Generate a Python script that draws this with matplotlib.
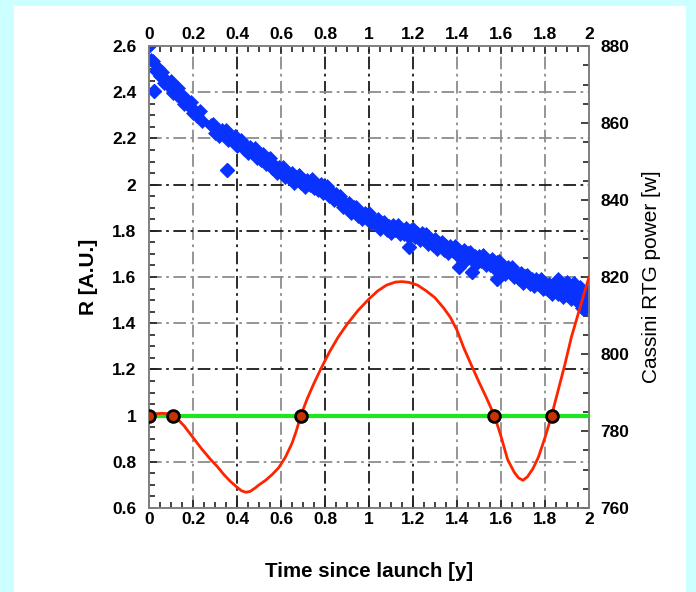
import matplotlib
matplotlib.use("Agg")
import matplotlib.pyplot as plt
from matplotlib.patches import Rectangle
from matplotlib.ticker import MultipleLocator, FuncFormatter

plt.rcParams['font.family'] = ['Liberation Sans', 'DejaVu Sans']

# Cassini RTG power telemetry [W] vs time since launch [y]
power_t = [0.00, 0.01, 0.02, 0.03, 0.04, 0.05, 0.06, 0.07, 0.08, 0.09, 0.10, 0.11, 0.12,
           0.13, 0.14, 0.15, 0.16, 0.17, 0.18, 0.19, 0.20, 0.21, 0.22, 0.23, 0.24,
           0.28, 0.29, 0.30, 0.31, 0.32, 0.33, 0.34, 0.35, 0.36, 0.37, 0.38, 0.39,
           0.40, 0.41, 0.42, 0.43, 0.44, 0.45, 0.46, 0.47, 0.48, 0.49, 0.50, 0.51,
           0.52, 0.53, 0.54, 0.55, 0.56, 0.57, 0.58, 0.59, 0.60, 0.61, 0.62, 0.63,
           0.64, 0.65, 0.66, 0.67, 0.68, 0.69, 0.70, 0.71, 0.72, 0.73, 0.74, 0.75,
           0.76, 0.77, 0.78, 0.79, 0.80, 0.81, 0.82, 0.83, 0.84, 0.85, 0.86, 0.87,
           0.88, 0.89, 0.90, 0.91, 0.92, 0.93, 0.94, 0.95, 0.96, 0.97, 0.98, 0.99,
           1.00, 1.01, 1.02, 1.03, 1.04, 1.05, 1.06, 1.07, 1.08, 1.09, 1.10, 1.11,
           1.12, 1.13, 1.14, 1.15, 1.16, 1.17, 1.18, 1.19, 1.20, 1.21, 1.22, 1.23,
           1.24, 1.25, 1.26, 1.27, 1.28, 1.29, 1.30, 1.31, 1.32, 1.33, 1.34, 1.35,
           1.36, 1.37, 1.38, 1.39, 1.40, 1.41, 1.42, 1.43, 1.44, 1.45, 1.46, 1.47,
           1.48, 1.49, 1.50, 1.51, 1.52, 1.53, 1.54, 1.55, 1.56, 1.57, 1.58, 1.59,
           1.60, 1.61, 1.62, 1.63, 1.64, 1.65, 1.66, 1.67, 1.68, 1.69, 1.70, 1.71,
           1.72, 1.73, 1.74, 1.75, 1.76, 1.77, 1.78, 1.79, 1.80, 1.81, 1.82, 1.83,
           1.84, 1.85, 1.86, 1.87, 1.88, 1.89, 1.90, 1.91, 1.92, 1.93, 1.94, 1.95,
           1.96, 1.97, 1.98, 1.99, 2.00,
           1.86, 1.90, 1.93, 1.96, 1.97, 1.98, 1.99]
power_w = [879.9, 876.4, 876.2, 873.4, 874.2, 872.3, 873.2, 870.3, 870.9, 869.5, 870.8, 867.9, 869.2,
           869.1, 866.5, 867.2, 865.0, 866.2, 864.4, 865.4, 862.5, 863.2, 861.9, 863.1, 860.4,
           859.6, 859.8, 857.5, 858.5, 856.6, 858.3, 856.9, 858.2, 855.6, 856.5, 855.3, 856.7,
           853.9, 855.4, 855.6, 853.3, 854.1, 852.1, 853.8, 852.4, 853.5, 850.8, 851.7, 850.5,
           851.9, 849.3, 850.7, 850.8, 848.3, 849.2, 847.1, 848.7, 847.3, 848.6, 846.0, 846.9,
           845.7, 847.1, 844.5, 846.1, 846.4, 844.3, 845.3, 843.4, 845.2, 844.0, 845.4, 843.0,
           843.9, 842.7, 844.2, 841.8, 843.4, 843.6, 841.1, 842.0, 839.9, 841.5, 839.9, 841.1,
           838.3, 839.1, 837.9, 839.3, 836.7, 838.3, 838.3, 835.9, 836.9, 835.0, 836.7, 835.3,
           836.6, 834.0, 834.9, 833.7, 835.1, 832.5, 834.1, 834.4, 832.2, 833.3, 831.5, 833.4,
           832.1, 833.6, 831.1, 832.2, 831.2, 832.8, 830.4, 832.2, 832.5, 830.3, 831.4, 829.6,
           831.3, 829.9, 831.2, 828.6, 829.5, 828.3, 829.8, 827.2, 828.9, 829.2, 826.9, 828.0,
           826.2, 828.0, 826.7, 828.1, 825.6, 826.6, 825.5, 827.0, 824.5, 826.2, 826.5, 824.3,
           825.4, 823.6, 825.4, 824.2, 825.6, 823.2, 824.2, 823.2, 824.7, 822.3, 823.9, 824.1,
           821.8, 822.8, 820.9, 822.6, 821.2, 822.5, 819.9, 820.8, 819.6, 821.0, 818.5, 820.3,
           820.5, 818.2, 819.4, 817.6, 819.4, 818.2, 819.5, 816.9, 817.9, 816.9, 818.3, 815.7,
           817.4, 817.8, 815.6, 816.8, 814.9, 816.6, 815.3, 816.8, 814.2, 815.1, 814.0, 815.6,
           813.0, 814.6, 814.8, 812.5, 813.6,
           819.5, 818.8, 818.4, 817.5, 812.0, 811.8, 816.5]
# isolated low readings
outlier_t = [0.024, 0.353, 1.18, 1.41, 1.47, 1.58]
outlier_w = [868.3, 847.8, 827.8, 822.7, 821.2, 819.4]

# residual ratio R
r_t = [0.00, 0.03, 0.06, 0.09, 0.11, 0.13, 0.16, 0.20, 0.24, 0.28, 0.31, 0.34,
       0.37, 0.40, 0.42, 0.44, 0.46, 0.48, 0.50, 0.53, 0.56, 0.59, 0.62, 0.65,
       0.67, 0.69, 0.72, 0.75, 0.78, 0.82, 0.86, 0.90, 0.95, 1.00, 1.04, 1.08,
       1.12, 1.15, 1.18, 1.22, 1.26, 1.30, 1.34, 1.37, 1.40, 1.43, 1.46, 1.50,
       1.53, 1.57, 1.60, 1.63, 1.66, 1.68, 1.70, 1.72, 1.745, 1.77, 1.80, 1.83,
       1.86, 1.89, 1.92, 1.96, 2.00]
r_val = [1.00, 1.008, 1.01, 1.008, 1.00, 0.985, 0.955, 0.905, 0.855, 0.81, 0.78, 0.745,
         0.715, 0.69, 0.675, 0.668, 0.672, 0.685, 0.70, 0.72, 0.745, 0.775, 0.82, 0.88,
         0.935, 1.00, 1.075, 1.14, 1.20, 1.275, 1.34, 1.395, 1.455, 1.505, 1.54, 1.565,
         1.578, 1.58, 1.577, 1.565, 1.54, 1.51, 1.465, 1.425, 1.37, 1.295, 1.23, 1.145,
         1.085, 1.00, 0.91, 0.81, 0.755, 0.73, 0.72, 0.735, 0.77, 0.82, 0.905, 1.00,
         1.11, 1.22, 1.34, 1.47, 1.60]
cross_t = [0.0, 0.11, 0.69, 1.57, 1.83]
cross_r = [1.0, 1.0, 1.0, 1.0, 1.0]
ref_level = 1.0

x_ticks = [0, 0.2, 0.4, 0.6, 0.8, 1.0, 1.2, 1.4, 1.6, 1.8, 2.0]
y_ticks = [0.6, 0.8, 1.0, 1.2, 1.4, 1.6, 1.8, 2.0, 2.2, 2.4, 2.6]
dark_x = [0.4, 0.8, 1.0, 1.2]
dark_y = [1.2, 1.8, 2.0]

fig = plt.figure(figsize=(6.96, 5.92), dpi=100)
fig.patch.set_facecolor('#ccffff')
fig.patches.append(Rectangle((14 / 696, 0), 672 / 696, 586 / 592,
                             transform=fig.transFigure, facecolor='white',
                             edgecolor='none', zorder=-10))

ax = fig.add_axes([149 / 696, 1 - 508 / 592, 440 / 696, 462 / 592])
ax.set_xlim(0, 2)
ax.set_ylim(0.6, 2.6)
ax.patch.set_alpha(0)

dash = (0, (7, 2.5, 1.5, 2.5))
for xv in x_ticks[1:-1]:
    c = '#1a1a1a' if xv in dark_x else '#8c8c8c'
    ax.axvline(xv, color=c, lw=1.3, linestyle=dash, zorder=1)
for yv in y_ticks[1:-1]:
    c = '#1a1a1a' if yv in dark_y else '#8c8c8c'
    ax.axhline(yv, color=c, lw=1.3, linestyle=dash, zorder=1)

fmt = FuncFormatter(lambda v, p: '%g' % round(v, 2))
ax.xaxis.set_major_locator(MultipleLocator(0.2))
ax.xaxis.set_minor_locator(MultipleLocator(0.05))
ax.yaxis.set_major_locator(MultipleLocator(0.2))
ax.yaxis.set_minor_locator(MultipleLocator(0.05))
ax.xaxis.set_major_formatter(fmt)
ax.yaxis.set_major_formatter(fmt)
ax.tick_params(axis='x', which='both', direction='in', top=True, labeltop=True,
               colors='#222222', labelcolor='black')
ax.tick_params(axis='y', which='both', direction='in', left=True, right=False,
               colors='#222222', labelcolor='black')
ax.tick_params(which='major', length=6, width=1.2, labelsize=12.5)
ax.tick_params(which='minor', length=4, width=1.2)
ax.tick_params(axis='x', which='major', pad=3)
ax.tick_params(axis='y', which='major', pad=9)
for lab in ax.get_xticklabels() + ax.get_yticklabels():
    lab.set_fontweight('bold')
for sp in ax.spines.values():
    sp.set_color('#808080')
    sp.set_linewidth(1.2)

ax.set_xlabel('Time since launch [y]', fontsize=14.8, fontweight='bold', labelpad=25)
ax.set_ylabel('R [A.U.]', fontsize=15, fontweight='bold', labelpad=10)

# power on the right axis
axp = ax.twinx()
axp.set_ylim(760, 880)
axp.yaxis.set_major_locator(MultipleLocator(20))
axp.yaxis.set_minor_locator(MultipleLocator(5))
axp.tick_params(axis='y', which='both', direction='in', colors='#222222', labelcolor='black')
axp.tick_params(which='major', length=6, width=1.2, labelsize=12.5, pad=8)
axp.tick_params(which='minor', length=4, width=1.2)
for lab in axp.get_yticklabels():
    lab.set_fontweight('bold')
for sp in axp.spines.values():
    sp.set_color('#808080')
    sp.set_linewidth(1.2)
axp.plot(power_t, power_w, linestyle='none', marker='D', ms=6.8, color='#0a32ff',
         mec='#0a32ff', mew=0.5, zorder=2)
axp.plot(outlier_t, outlier_w, linestyle='none', marker='D', ms=7.5, color='#0a32ff', zorder=2)
axp.set_ylabel('Cassini RTG power [w]', fontsize=15, labelpad=9)

# R curve, unit level and crossings on top
axc = ax.twinx()
axc.set_ylim(0.6, 2.6)
axc.axis('off')
axc.axhline(ref_level, color='#1ee61e', lw=3, zorder=3)
axc.plot(r_t, r_val, color='#ff2400', lw=2, zorder=4)
axc.plot(cross_t, cross_r, linestyle='none', marker='o', ms=8.5, mfc='#c83200',
         mec='black', mew=2, zorder=5)

fig.savefig('out.png', dpi=100, facecolor=fig.get_facecolor())
